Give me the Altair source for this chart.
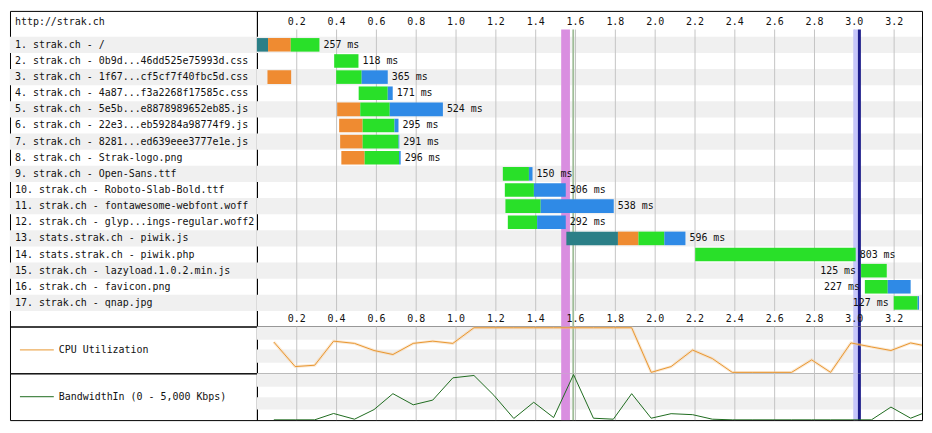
import altair as alt
import pandas as pd

# ---------------- data ----------------
page_title = "http://strak.ch"
req_labels = [
    "1. strak.ch - /",
    "2. strak.ch - 0b9d...46dd525e75993d.css",
    "3. strak.ch - 1f67...cf5cf7f40fbc5d.css",
    "4. strak.ch - 4a87...f3a2268f17585c.css",
    "5. strak.ch - 5e5b...e8878989652eb85.js",
    "6. strak.ch - 22e3...eb59284a98774f9.js",
    "7. strak.ch - 8281...ed639eee3777e1e.js",
    "8. strak.ch - Strak-logo.png",
    "9. strak.ch - Open-Sans.ttf",
    "10. strak.ch - Roboto-Slab-Bold.ttf",
    "11. strak.ch - fontawesome-webfont.woff",
    "12. strak.ch - glyp...ings-regular.woff2",
    "13. stats.strak.ch - piwik.js",
    "14. stats.strak.ch - piwik.php",
    "15. strak.ch - lazyload.1.0.2.min.js",
    "16. strak.ch - favicon.png",
    "17. strak.ch - qnap.jpg",
]
durations_ms = [257, 118, 365, 171, 524, 295, 291, 296, 150, 306, 538, 292, 596, 803, 125, 227, 127]
label_left_rows = [15, 16, 17]

# phase segments (seconds): start, end ; None = no such phase
dns = [(0.000, 0.056), None, None, None, None, None, None, None, None, None, None, None,
       (1.554, 1.813), None, None, None, None]
connect = [(0.056, 0.170), None, (0.053, 0.172), None, (0.403, 0.519), (0.413, 0.531),
           (0.418, 0.531), (0.424, 0.541), None, None, None, None, (1.813, 1.916),
           None, None, None, None]
ttfb = [(0.170, 0.314), (0.388, 0.510), (0.398, 0.526), (0.511, 0.657), (0.519, 0.667),
        (0.531, 0.691), (0.531, 0.711), (0.541, 0.714), (1.235, 1.366), (1.245, 1.391),
        (1.248, 1.425), (1.260, 1.407), (1.916, 2.046), (2.201, 3.007), (3.034, 3.163),
        (3.053, 3.168), (3.198, 3.318)]
download = [None, None, (0.526, 0.657), (0.657, 0.682), (0.667, 0.934), (0.691, 0.711),
            (0.711, 0.715), (0.714, 0.722), (1.366, 1.384), (1.391, 1.551), (1.425, 1.792),
            (1.407, 1.551), (2.046, 2.152), None, None, (3.168, 3.283), (3.318, 3.325)]
phase_colors = {"dns": "#2b7f87", "connect": "#ef8b31", "ttfb": "#29e029", "download": "#2f8ae6"}

ticks = [0.2, 0.4, 0.6, 0.8, 1.0, 1.2, 1.4, 1.6, 1.8, 2.0, 2.2, 2.4, 2.6, 2.8, 3.0, 3.2]

marker_names = ["DOM Content Loaded", "Start Render", "On Load", "Document Complete"]
marker_start = [1.528, 1.584, 2.995, 3.018]
marker_end = [1.572, 1.593, 3.018, 3.033]
marker_colors = ["#d98ee0", "#9fbd98", "#c6c6fb", "#1c1c8a"]

sample_t = [0.085, 0.192, 0.290, 0.385, 0.490, 0.588, 0.683, 0.785, 0.883, 0.984,
            1.090, 1.190, 1.290, 1.390, 1.490, 1.590, 1.690, 1.790, 1.882, 1.980,
            2.080, 2.188, 2.287, 2.387, 2.487, 2.587, 2.685, 2.786, 2.881, 2.983,
            3.086, 3.184, 3.283, 3.383]
cpu_pct = [68, 13, 16, 70, 65, 49, 40, 65, 70, 65,
           100, 100, 100, 100, 100, 100, 100, 100, 100, 0,
           13, 50, 31, 0, 0, 0, 0, 28, 0, 66,
           57, 49, 66, 57]
bw_kbps = [0, 0, 0, 700, 70, 1130, 2890, 1660, 2180, 4640,
           4900, 2710, 150, 1940, 250, 5000, 180, 70, 2890, 180,
           680, 570, 70, 0, 0, 0, 0, 0, 0, 0,
           0, 1410, 180, 1050]

cpu_label = "CPU Utilization"
bw_label = "BandwidthIn (0 - 5,000 Kbps)"

# ---------------- layout constants ----------------
FONT = "DejaVu Sans Mono"
TXT = "#111111"
ROW_PX = 16.2
HDR_PX = 26.0
H1, H2, H3 = 317, 47, 47
L, R = 248, 668
T_MAX = 3.34
HDR_U = HDR_PX / ROW_PX
Y_MAX = H1 / ROW_PX - HDR_U
TOP_LABEL_Y = -HDR_U + 11.0 / ROW_PX
BOT_LABEL_Y = 17 + 8.3 / ROW_PX
GRID_TOP = -0.45

xs = alt.Scale(domain=[0, T_MAX], nice=False, zero=False)
ys = alt.Scale(domain=[-HDR_U, Y_MAX], reverse=True, nice=False, zero=False)
cpu_scale = alt.Scale(domain=[-2.1, 102.8], nice=False, zero=False)
bw_scale = alt.Scale(domain=[-30, 5140], nice=False, zero=False)

# ---------------- frames ----------------
n = len(req_labels)
rows = pd.DataFrame({
    "row": list(range(1, n + 1)),
    "label": [("\u00a0" + s if i < 9 else s) for i, s in enumerate(req_labels)],
})
rows["top"] = rows["row"] - 1
rows["bot"] = rows["row"]
rows["mid"] = rows["row"] - 0.5
stripes = rows[rows["row"] % 2 == 1]

segs = []
for name, arr in [("dns", dns), ("connect", connect), ("ttfb", ttfb), ("download", download)]:
    for i, s in enumerate(arr):
        if s is not None:
            segs.append({"row": i + 1, "t0": s[0], "t1": s[1], "color": phase_colors[name],
                         "y0": i + 0.08, "y1": i + 0.92})
segs = pd.DataFrame(segs)

lab = []
for i, d in enumerate(durations_ms):
    r = i + 1
    rs = segs[segs["row"] == r]
    # label sits next to the main request (ignore separate early connect of row 3)
    lab.append({"row": r, "text": f"{d} ms", "end": rs["t1"].max(),
                "start": rs[rs["t1"] > 0.2]["t0"].min() if r == 3 else rs["t0"].min(),
                "mid": r - 0.5, "left": r in label_left_rows})
lab = pd.DataFrame(lab)

tick_df = pd.DataFrame({"t": ticks, "label": [f"{t:.1f}" for t in ticks]})
tick_df["ytop"] = TOP_LABEL_Y
tick_df["ybot"] = BOT_LABEL_Y
tick_df["g0"] = GRID_TOP
tick_df["g1"] = 17

mk = pd.DataFrame({"name": marker_names, "t0": marker_start, "t1": marker_end, "color": marker_colors})
mk["y0"] = GRID_TOP
mk["y1"] = Y_MAX

series = pd.DataFrame({"t": sample_t, "cpu": cpu_pct, "bw": bw_kbps})

# ---------------- waterfall (right) ----------------
w_stripes = alt.Chart(stripes).mark_rect(color="#f0f0f0").encode(
    x=alt.value(0), x2=alt.value(R),
    y=alt.Y("top:Q", scale=ys, axis=None), y2="bot:Q")
w_grid = alt.Chart(tick_df).mark_rule(color="#c4c4c4", strokeWidth=1).encode(
    x=alt.X("t:Q", scale=xs, axis=None),
    y=alt.Y("g0:Q", scale=ys, axis=None), y2="g1:Q")
w_mk = alt.Chart(mk).mark_rect().encode(
    x=alt.X("t0:Q", scale=xs, axis=None), x2="t1:Q",
    y=alt.Y("y0:Q", scale=ys, axis=None), y2="y1:Q",
    color=alt.Color("color:N", scale=None))
w_bars = alt.Chart(segs).mark_rect().encode(
    x=alt.X("t0:Q", scale=xs, axis=None), x2="t1:Q",
    y=alt.Y("y0:Q", scale=ys, axis=None), y2="y1:Q",
    color=alt.Color("color:N", scale=None))
w_lab_r = alt.Chart(lab[~lab["left"]]).mark_text(
    align="left", baseline="middle", dx=4, font=FONT, fontSize=10, color=TXT).encode(
    x=alt.X("end:Q", scale=xs, axis=None), y=alt.Y("mid:Q", scale=ys, axis=None), text="text:N")
w_lab_l = alt.Chart(lab[lab["left"]]).mark_text(
    align="right", baseline="middle", dx=-5, font=FONT, fontSize=10, color=TXT).encode(
    x=alt.X("start:Q", scale=xs, axis=None), y=alt.Y("mid:Q", scale=ys, axis=None), text="text:N")
w_tt = alt.Chart(tick_df).mark_text(align="center", baseline="middle", font=FONT,
                                    fontSize=10, color=TXT).encode(
    x=alt.X("t:Q", scale=xs, axis=None), y=alt.Y("ytop:Q", scale=ys, axis=None), text="label:N")
w_tb = alt.Chart(tick_df).mark_text(align="center", baseline="middle", font=FONT,
                                    fontSize=10, color=TXT).encode(
    x=alt.X("t:Q", scale=xs, axis=None), y=alt.Y("ybot:Q", scale=ys, axis=None), text="label:N")
wf_right = alt.layer(w_stripes, w_grid, w_mk, w_bars, w_lab_r, w_lab_l, w_tt, w_tb).properties(
    width=R, height=H1)

# ---------------- waterfall (left labels) ----------------
l_stripes = alt.Chart(stripes).mark_rect(color="#f0f0f0").encode(
    x=alt.value(0), x2=alt.value(L),
    y=alt.Y("top:Q", scale=ys, axis=None), y2="bot:Q")
l_text = alt.Chart(rows).mark_text(align="left", baseline="middle", font=FONT,
                                   fontSize=10, color=TXT).encode(
    x=alt.value(5), y=alt.Y("mid:Q", scale=ys, axis=None), text="label:N")
hdr = pd.DataFrame({"label": [page_title], "y": [TOP_LABEL_Y]})
l_hdr = alt.Chart(hdr).mark_text(align="left", baseline="middle", font=FONT,
                                 fontSize=10, color=TXT).encode(
    x=alt.value(5), y=alt.Y("y:Q", scale=ys, axis=None), text="label:N")
wf_left = alt.layer(l_stripes, l_text, l_hdr).properties(width=L, height=H1)


# ---------------- CPU / bandwidth panels ----------------
def series_panel(field, scale, bands, color, h, halo=None):
    bdf = pd.DataFrame({"lo": [b[0] for b in bands], "hi": [b[1] for b in bands]})
    st = alt.Chart(bdf).mark_rect(color="#f0f0f0").encode(
        x=alt.value(0), x2=alt.value(R),
        y=alt.Y("lo:Q", scale=scale, axis=None), y2="hi:Q")
    gr = alt.Chart(tick_df).mark_rule(color="#c4c4c4", strokeWidth=1).encode(
        x=alt.X("t:Q", scale=xs, axis=None), y=alt.value(0), y2=alt.value(h))
    mks = alt.Chart(mk).mark_rect().encode(
        x=alt.X("t0:Q", scale=xs, axis=None), x2="t1:Q",
        y=alt.value(0), y2=alt.value(h),
        color=alt.Color("color:N", scale=None))
    layers = [st, gr, mks]
    if halo:
        layers.append(alt.Chart(series).mark_line(clip=True, color=halo, strokeWidth=3,
                                                  opacity=0.45).encode(
            x=alt.X("t:Q", scale=xs, axis=None), y=alt.Y(f"{field}:Q", scale=scale, axis=None)))
    layers.append(alt.Chart(series).mark_line(clip=True, color=color, strokeWidth=1).encode(
        x=alt.X("t:Q", scale=xs, axis=None), y=alt.Y(f"{field}:Q", scale=scale, axis=None)))
    return alt.layer(*layers).properties(width=R, height=h)


def legend_panel(text, color, h):
    d = pd.DataFrame({"label": [text]})
    ln = alt.Chart(d).mark_rule(color=color, strokeWidth=1).encode(
        x=alt.value(10), x2=alt.value(44), y=alt.value(h / 2))
    tx = alt.Chart(d).mark_text(align="left", baseline="middle", font=FONT,
                                fontSize=10, color=TXT).encode(
        x=alt.value(49), y=alt.value(h / 2), text="label:N")
    return alt.layer(ln, tx).properties(width=L, height=h)


CPU_C = "#e8962f"
BW_C = "#1e6b1e"
cpu_right = series_panel("cpu", cpu_scale, [(73, 103), (21.5, 51.5)], CPU_C, H2, halo="#f6cfa0")
bw_right = series_panel("bw", bw_scale, [(3650, 5140), (1130, 2500)], BW_C, H3)
cpu_left = legend_panel(cpu_label, CPU_C, H2)
bw_left = legend_panel(bw_label, BW_C, H3)

chart = alt.concat(
    wf_left, wf_right, cpu_left, cpu_right, bw_left, bw_right,
    columns=2, spacing=0, bounds="flush", padding=1, background="white",
).configure_view(stroke="#000000", strokeWidth=1)

chart.save("out.html", embed_options={"renderer": "svg", "actions": False})
